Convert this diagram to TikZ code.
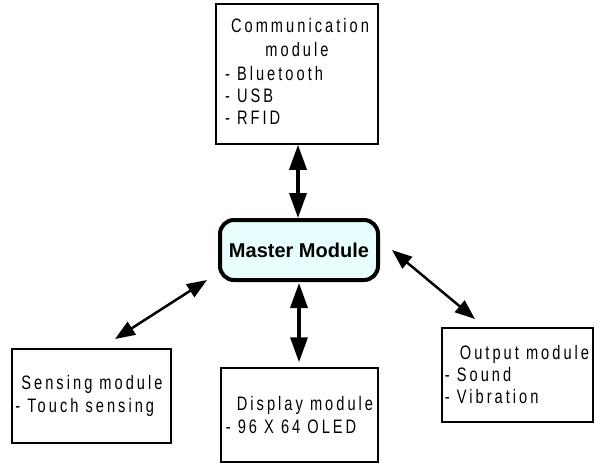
\documentclass[tikz,border=0pt]{standalone}
\usepackage{fontspec}
\setmainfont{Liberation Sans}
\newfontfamily\lbl[FakeStretch=0.75,LetterSpace=15.5]{Liberation Sans}
\usetikzlibrary{arrows.meta}
\definecolor{masterfill}{RGB}{232,255,255}
\tikzset{
  box/.style={draw=black, line width=1.5pt, fill=white, inner sep=0pt,
    font=\lbl\fontsize{19.5}{23.5}\selectfont, align=left},
  master/.style={draw=black, line width=4pt, rounded corners=14pt, fill=masterfill,
    minimum width=158pt, minimum height=60pt, inner sep=0pt,
    font=\bfseries\fontsize{20}{23}\selectfont},
  bigarrow/.style={line width=3.5pt, {Triangle[length=25pt,width=17pt]}-{Triangle[length=25pt,width=17pt]}},
  diagarrow/.style={line width=2.5pt, {Triangle[length=20pt,width=15pt]}-{Triangle[length=20pt,width=15pt]}}
}
\begin{document}
\begin{tikzpicture}[x=1pt,y=-1pt]
\useasboundingbox (0,0) rectangle (595,463);
\fill[white] (0,0) rectangle (595,463);

\node[box, minimum width=162pt, minimum height=140pt] (comm) at (297,74)
  {\begin{tabular}{@{}l@{}}\multicolumn{1}{@{}c@{}}{\hspace*{6pt}Communication}\\[0.5pt]
   \multicolumn{1}{@{}c@{}}{module}\\- Bluetooth\\[-1.5pt]- USB\\[-1.5pt]- RFID\end{tabular}};

\node[master] (master) at (299,250) {Master Module};

\node[box, minimum width=159pt, minimum height=94pt] (sense) at (91.5,396)
  {\hspace*{6pt}Sensing module\hspace*{5pt}\\- Touch sensing};

\node[box, minimum width=157pt, minimum height=94pt] (disp) at (299.5,415)
  {\hspace*{11pt}Display module\\- 96 X 64 OLED\hspace*{11pt}};

\node[box, minimum width=151pt, minimum height=94pt, font=\lbl\fontsize{19.5}{22}\selectfont] (out) at (517.5,375)
  {\hspace*{15pt}Output module\hspace*{1pt}\\- Sound\\- Vibration};

\coordinate (s1) at (115,339);
\coordinate (s2) at (207,280);
\coordinate (o1) at (392,250);
\coordinate (o2) at (475,319);

\draw[bigarrow] (master.north) ++(-1,0) coordinate (c1) -- (c1 |- comm.south);
\draw[bigarrow, shorten <=1pt, shorten >=5pt] (master.south) -- (master.south |- disp.north);
\draw[diagarrow] (s1) -- (s2);
\draw[diagarrow] (o1) -- (o2);
\end{tikzpicture}
\end{document}
